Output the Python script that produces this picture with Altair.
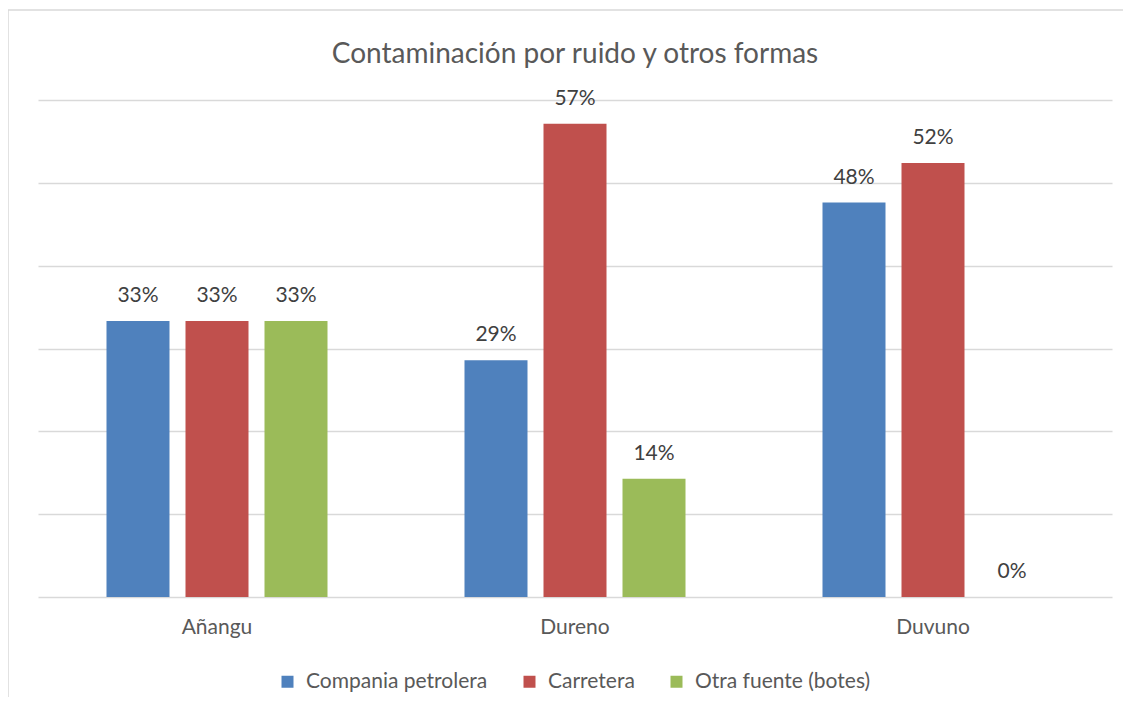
import altair as alt
import pandas as pd

categories = ["Añangu", "Dureno", "Duvuno"]
series = ["Compania petrolera", "Carretera", "Otra fuente (botes)"]
compania = [0.3333, 0.2857, 0.4762]
carretera = [0.3333, 0.5714, 0.5238]
otra = [0.3333, 0.1429, 0.0]
colors = ["#4F81BD", "#C0504D", "#9BBB59"]
grid_values = [0, 0.1, 0.2, 0.3, 0.4, 0.5, 0.6]

rows = []
for name, vals in zip(series, [compania, carretera, otra]):
    for c, v in zip(categories, vals):
        rows.append({"Lugar": c, "Fuente": name, "Valor": v})
df = pd.DataFrame(rows)

FONT = "Lato"
GRAY = "#D9D9D9"
TXT = "#595959"

x_enc = alt.X("Lugar:N", sort=categories,
              scale=alt.Scale(paddingInner=0, paddingOuter=0),
              axis=alt.Axis(title=None, labelAngle=0, ticks=False, domain=False,
                            labelFontSize=21, labelColor=TXT, labelFont=FONT,
                            labelPadding=19, grid=False))
xo_enc = alt.XOffset("Fuente:N", sort=series,
                     scale=alt.Scale(paddingInner=0.2025, paddingOuter=0.867))
y_scale = alt.Scale(domain=[0, 0.6], nice=False)

bars = alt.Chart(df).mark_bar().encode(
    x=x_enc,
    xOffset=xo_enc,
    y=alt.Y("Valor:Q", scale=y_scale,
            axis=alt.Axis(title=None, labels=False, ticks=False, domain=False,
                          grid=True, values=grid_values, gridColor=GRAY,
                          gridWidth=1.5)),
    color=alt.Color("Fuente:N", sort=series,
                    scale=alt.Scale(domain=series, range=colors),
                    legend=alt.Legend(title=None, orient="none", direction="horizontal",
                                      legendX=239, legendY=571,
                                      symbolType="square", symbolSize=144,
                                      symbolStrokeWidth=0, labelLimit=500,
                                      labelFontSize=21, labelColor=TXT, labelFont=FONT,
                                      columnPadding=31, labelOffset=8)),
)

labels = alt.Chart(df).mark_text(baseline="alphabetic", dy=-19, fontSize=21,
                                 font=FONT, color="#404040").encode(
    x=alt.X("Lugar:N", sort=categories),
    xOffset=alt.XOffset("Fuente:N", sort=series),
    y=alt.Y("Valor:Q", scale=y_scale),
    text=alt.Text("Valor:Q", format=".0%"),
)

border_df = pd.DataFrame({"k": [0]})
left_border = alt.Chart(border_df).mark_rule(color=GRAY, strokeWidth=1.5).encode(
    x=alt.value(-30), y=alt.value(-90), y2=alt.value(620))
top_border = alt.Chart(border_df).mark_rule(color=GRAY, strokeWidth=1.5).encode(
    x=alt.value(-30), x2=alt.value(1100), y=alt.value(-90))

chart = alt.layer(left_border, top_border, bars, labels).properties(
    width=1074, height=497,
    title=alt.TitleParams("Contaminación por ruido y otros formas", font=FONT,
                          fontSize=28, fontWeight="normal", color=TXT, offset=0,
                          baseline="alphabetic", dy=82),
    autosize=alt.AutoSizeParams(type="none"),
    padding={"left": 30, "top": 92, "right": 11, "bottom": 100},
).configure_view(stroke=None)

chart.save("out.html", embed_options={"renderer": "svg", "actions": False})
